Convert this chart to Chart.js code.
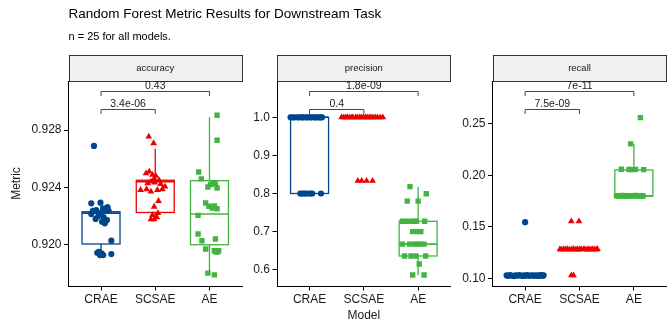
<!DOCTYPE html>
<html>
<head>
<meta charset="utf-8">
<title>Random Forest Metric Results</title>
<script src="https://cdn.jsdelivr.net/npm/chart.js@4.4.1/dist/chart.umd.min.js"></script>
<style>
    html, body { margin: 0; padding: 0; background: #ffffff; }
    #wrap { position: relative; width: 667px; height: 322px; }
    #wrap canvas { position: absolute; left: 0; top: 0; }
</style>
</head>
<body>
<div id="wrap">
    <canvas id="accuracyChart" width="667" height="322"></canvas>
    <canvas id="precisionChart" width="667" height="322"></canvas>
    <canvas id="recallChart" width="667" height="322"></canvas>
</div>
<script>
// categories
const models = ['CRAE', 'SCSAE', 'AE'];
const metrics = ['accuracy', 'precision', 'recall'];

// p-value labels: [CRAE vs SCSAE, CRAE vs AE]
const accuracyP = ['3.4e-06', '0.43'];
const precisionP = ['0.4', '1.8e-09'];
const recallP = ['7.5e-09', '7e-11'];

// y tick labels
const accuracyTicks = [0.920, 0.924, 0.928];
const precisionTicks = [0.6, 0.7, 0.8, 0.9, 1.0];
const recallTicks = [0.10, 0.15, 0.20, 0.25];

// box stats per model: [lower whisker, q1, median, q3, upper whisker]
const accuracyBox = [
    [0.9193, 0.92005, 0.9222, 0.9223, 0.9229],
    [0.9218, 0.92225, 0.9244, 0.9245, 0.9267],
    [0.9179, 0.9200, 0.92214, 0.92447, 0.9289]
];
const precisionBox = [
    [0.8, 0.8, 1.0, 1.0, 1.0],
    [1.0, 1.0, 1.0, 1.0, 1.0],
    [0.586, 0.636, 0.667, 0.727, 0.818]
];
const recallBox = [
    [0.1026, 0.1026, 0.1026, 0.1026, 0.1026],
    [0.128, 0.128, 0.128, 0.128, 0.128],
    [0.18, 0.18, 0.18, 0.2051, 0.2304]
];

const accuracyCRAE = [0.92689, 0.92289, 0.92293, 0.92262, 0.92237, 0.92242, 0.92223, 0.92254, 0.92242, 0.92237,
    0.92214, 0.92207, 0.92191, 0.92172, 0.92149, 0.92161, 0.92200, 0.92180, 0.92028, 0.91951,
    0.91940, 0.91928, 0.91928, 0.91935, 0.91944];
const accuracyCRAEJitter = [-0.13, -0.18, -0.01, 0.12, -0.15, -0.09, -0.04, 0.04, 0.10, 0.14,
    -0.18, 0.01, 0.05, 0.11, 0.07, 0.02, -0.05, -0.10, 0.19, -0.04,
    0.01, 0.04, -0.02, 0.19, -0.07];
const accuracySCSAE = [0.92754, 0.92708, 0.92498, 0.92510, 0.92487, 0.92480, 0.92450, 0.92460, 0.92429, 0.92440,
    0.92433, 0.92424, 0.92405, 0.92387, 0.92370, 0.92382, 0.92387, 0.92382, 0.92305, 0.92265,
    0.92220, 0.92207, 0.92191, 0.92177, 0.92177];
const accuracySCSAEJitter = [-0.12, -0.03, -0.17, -0.11, -0.05, 0.01, 0.07, -0.02, -0.14, -0.08,
    -0.01, 0.10, 0.18, -0.16, -0.08, 0.04, 0.13, -0.27, 0.06, -0.02,
    0.05, -0.05, 0.03, -0.02, -0.08];
const accuracyAE = [0.92903, 0.92729, 0.92507, 0.92459, 0.92403, 0.92431, 0.92396, 0.92424, 0.92420, 0.92291,
    0.92268, 0.92256, 0.92251, 0.92270, 0.92205, 0.92075, 0.92028, 0.92040, 0.91970, 0.91958,
    0.91949, 0.91958, 0.91950, 0.91802, 0.91790];
const accuracyAEJitter = [0.14, 0.14, -0.20, -0.15, -0.03, 0.07, 0.14, 0.11, 0.02, -0.07,
    -0.01, 0.05, 0.14, 0.09, -0.21, -0.21, -0.14, 0.11, -0.07, 0.09,
    0.14, 0.17, 0.12, -0.03, 0.09];

const precisionCRAE = [1, 1, 1, 1, 1, 1, 1, 1, 1, 1, 1, 1, 1, 1, 1, 1, 1,
    0.8, 0.8, 0.8, 0.8, 0.8, 0.8, 0.8, 0.8];
const precisionCRAEJitter = [-0.35, -0.31, -0.28, -0.22, -0.19, -0.14, -0.12, -0.07, -0.04, 0.01, 0.03, 0.08, 0.11, 0.14, 0.18, 0.20, 0.23,
    -0.17, -0.14, -0.10, -0.07, -0.02, 0.02, 0.05, 0.21];
const precisionSCSAE = [1, 1, 1, 1, 1, 1, 1, 1, 1, 1, 1, 1, 1, 1, 1, 1, 1, 1, 1, 1, 1,
    0.8333, 0.8333, 0.8333, 0.8333];
const precisionSCSAEJitter = [-0.41, -0.37, -0.33, -0.30, -0.26, -0.22, -0.20, -0.15, -0.12, -0.08, -0.05, -0.01, 0.03, 0.06, 0.10, 0.13, 0.17, 0.21, 0.25, 0.30, 0.35,
    -0.11, -0.04, 0.05, 0.16];
const precisionAE = [0.818, 0.7995, 0.78, 0.78, 0.727, 0.727, 0.727, 0.727, 0.727, 0.70,
    0.70, 0.70, 0.667, 0.667, 0.667, 0.667, 0.667, 0.667, 0.636, 0.636,
    0.636, 0.636, 0.615, 0.586, 0.586];
const precisionAEJitter = [-0.15, 0.15, -0.20, 0.0, -0.29, -0.20, -0.10, -0.03, 0.12, -0.10,
    -0.01, 0.05, -0.29, -0.16, -0.07, -0.02, 0.04, 0.11, -0.25, -0.13,
    -0.04, 0.14, 0.02, -0.10, 0.11];

const recallCRAE = [0.1545, 0.1028, 0.1024, 0.1030, 0.1026, 0.1022, 0.1029, 0.1025, 0.1031, 0.1027,
    0.1023, 0.1028, 0.1026, 0.1030, 0.1024, 0.1027, 0.1029, 0.1025, 0.1026, 0.1028,
    0.1023, 0.1031, 0.1027, 0.1025, 0.1029];
const recallCRAEJitter = [0.0, -0.34, -0.31, -0.28, -0.25, -0.21, -0.18, -0.15, -0.11, -0.08,
    -0.05, -0.02, 0.01, 0.04, 0.07, 0.10, 0.13, 0.16, 0.19, 0.22,
    0.25, 0.28, 0.31, 0.33, 0.34];
const recallSCSAE = [0.1553, 0.1553, 0.1282, 0.1279, 0.1284, 0.1280, 0.1283, 0.1278, 0.1281, 0.1285,
    0.1279, 0.1282, 0.1280, 0.1284, 0.1281, 0.1283, 0.1278, 0.1282, 0.1280, 0.1284,
    0.1281, 0.1279, 0.1283, 0.1029, 0.1029];
const recallSCSAEJitter = [-0.15, -0.01, -0.36, -0.33, -0.29, -0.25, -0.22, -0.18, -0.14, -0.11,
    -0.07, -0.04, 0.0, 0.03, 0.07, 0.10, 0.14, 0.17, 0.21, 0.24,
    0.28, 0.31, 0.33, -0.15, -0.11];
const recallAE = [0.2559, 0.2304, 0.2058, 0.2056, 0.2055, 0.2057, 0.2054, 0.1802, 0.1798, 0.1800,
    0.1803, 0.1797, 0.1801, 0.1799, 0.1802, 0.1798, 0.1800, 0.1803, 0.1797, 0.1801,
    0.1799, 0.1802, 0.1798, 0.1800, 0.1801];
const recallAEJitter = [0.12, -0.06, -0.23, -0.09, -0.02, 0.03, 0.18, -0.32, -0.29, -0.25,
    -0.21, -0.18, -0.14, -0.11, -0.07, -0.04, 0.0, 0.03, 0.06, 0.09,
    0.11, 0.13, 0.15, 0.17, -0.27];

const colors = ['#00468B', '#ED0000', '#42B540'];
const shapes = ['circle', 'triangle', 'rect'];
const radii = [3.1, 3.9, 3.8];
const fontFamily = '"Liberation Sans", Arial, Helvetica, sans-serif';
const textColor = '#1a1a1a';

function panelPlugin(p) {
    return {
        id: 'panel_' + p.name,
        beforeDatasetsDraw(chart) {
            const ctx = chart.ctx;
            const x = chart.scales.x;
            const y = chart.scales.y;
            ctx.save();
            p.box.forEach((b, i) => {
                const [lo, q1, med, q3, hi] = b;
                const cx = x.getPixelForValue(i + 1);
                const l = x.getPixelForValue(i + 1 - 0.35);
                const r = x.getPixelForValue(i + 1 + 0.35);
                const yLo = y.getPixelForValue(lo), yQ1 = y.getPixelForValue(q1);
                const yMed = y.getPixelForValue(med), yQ3 = y.getPixelForValue(q3);
                const yHi = y.getPixelForValue(hi);
                ctx.strokeStyle = colors[i];
                ctx.lineWidth = 1.3;
                // whiskers
                ctx.beginPath();
                ctx.moveTo(cx, yQ3); ctx.lineTo(cx, yHi);
                ctx.moveTo(cx, yQ1); ctx.lineTo(cx, yLo);
                ctx.stroke();
                // box
                ctx.fillStyle = '#ffffff';
                ctx.fillRect(l, yQ3, r - l, yQ1 - yQ3);
                ctx.strokeRect(l, yQ3, r - l, yQ1 - yQ3);
                // median
                ctx.lineWidth = 1.6;
                ctx.beginPath();
                ctx.moveTo(l, yMed); ctx.lineTo(r, yMed);
                ctx.stroke();
            });
            ctx.restore();
        },
        afterDraw(chart) {
            const ctx = chart.ctx;
            const area = chart.chartArea;
            const x = chart.scales.x;
            ctx.save();

            // facet strip
            const stripTop = 55;
            ctx.fillStyle = '#f0f0f0';
            ctx.fillRect(area.left, stripTop, area.right - area.left, area.top - stripTop);
            ctx.strokeStyle = '#333333';
            ctx.lineWidth = 1;
            ctx.strokeRect(Math.round(area.left) + 0.5, stripTop + 0.5,
                Math.round(area.right - area.left) - 1, Math.round(area.top - stripTop));
            ctx.fillStyle = textColor;
            ctx.font = '9.5px ' + fontFamily;
            ctx.textAlign = 'center';
            ctx.textBaseline = 'middle';
            ctx.fillText(p.name, (area.left + area.right) / 2, (stripTop + area.top) / 2 + 0.5);

            // comparison brackets
            const brackets = [
                { a: 1, b: 2, dy: 28.3, label: p.pvals[0] },
                { a: 1, b: 3, dy: 9.7, label: p.pvals[1] }
            ];
            ctx.strokeStyle = '#333333';
            ctx.lineWidth = 0.9;
            ctx.font = '10.5px ' + fontFamily;
            ctx.textBaseline = 'alphabetic';
            brackets.forEach(br => {
                const xa = x.getPixelForValue(br.a);
                const xb = x.getPixelForValue(br.b);
                const yy = Math.round(area.top + br.dy) + 0.5;
                ctx.beginPath();
                ctx.moveTo(xa, yy + 4.5);
                ctx.lineTo(xa, yy);
                ctx.lineTo(xb, yy);
                ctx.lineTo(xb, yy + 4.5);
                ctx.stroke();
                ctx.fillText(br.label, (xa + xb) / 2, yy - 2.5);
            });

            // page title and subtitle
            if (p.first) {
                ctx.textAlign = 'left';
                ctx.fillStyle = '#000000';
                ctx.font = '13.5px ' + fontFamily;
                ctx.fillText('Random Forest Metric Results for Downstream Task', area.left, 17.5);
                ctx.font = '11px ' + fontFamily;
                ctx.fillText('n = 25 for all models.', area.left, 40);
            }
            ctx.restore();
        }
    };
}

function buildChart(id, p) {
    const datasets = models.map((m, i) => ({
        label: m,
        data: p.values[i].map((v, k) => ({ x: i + 1 + p.jitter[i][k], y: v })),
        pointStyle: shapes[i],
        pointRadius: radii[i],
        backgroundColor: colors[i],
        borderWidth: 0
    }));

    return new Chart(document.getElementById(id), {
        type: 'scatter',
        data: { datasets },
        options: {
            responsive: false,
            animation: false,
            events: [],
            layout: {
                autoPadding: false,
                padding: { left: p.padLeft, right: p.padRight, top: 81, bottom: 0 }
            },
            plugins: {
                legend: { display: false },
                tooltip: { enabled: false }
            },
            scales: {
                x: {
                    type: 'linear',
                    min: 0.4,
                    max: 3.6,
                    afterBuildTicks: s => { s.ticks = [1, 2, 3].map(v => ({ value: v })); },
                    afterFit: s => {
                        s.height = 36;
                        s.paddingLeft = 0;
                        s.paddingRight = 0;
                    },
                    ticks: {
                        callback: v => models[v - 1],
                        color: textColor,
                        font: { family: fontFamily, size: 12 },
                        padding: 2,
                        autoSkip: false,
                        maxRotation: 0
                    },
                    grid: { drawOnChartArea: false, drawTicks: true, tickLength: 4.5, tickColor: '#000000', tickWidth: 1 },
                    border: { display: true, color: '#000000', width: 1 },
                    title: {
                        display: !!p.xTitle,
                        text: p.xTitle || '',
                        color: textColor,
                        font: { family: fontFamily, size: 12 },
                        padding: { top: 0, bottom: -1 }
                    }
                },
                y: {
                    type: 'linear',
                    min: p.yMin,
                    max: p.yMax,
                    afterBuildTicks: s => { s.ticks = p.ticks.map(v => ({ value: v })); },
                    afterFit: s => {
                        s.width = p.yWidth;
                        s.paddingTop = 0;
                        s.paddingBottom = 0;
                    },
                    ticks: {
                        callback: v => v.toFixed(p.decimals),
                        color: textColor,
                        font: { family: fontFamily, size: 12 },
                        padding: 2.5
                    },
                    grid: { drawOnChartArea: false, drawTicks: true, tickLength: 4.5, tickColor: '#000000', tickWidth: 1 },
                    border: { display: true, color: '#000000', width: 1 },
                    title: {
                        display: !!p.yTitle,
                        text: p.yTitle || '',
                        color: textColor,
                        font: { family: fontFamily, size: 12 },
                        padding: { top: 9, bottom: 0 }
                    }
                }
            }
        },
        plugins: [panelPlugin(p)]
    });
}

buildChart('accuracyChart', {
    name: metrics[0], first: true,
    values: [accuracyCRAE, accuracySCSAE, accuracyAE],
    jitter: [accuracyCRAEJitter, accuracySCSAEJitter, accuracyAEJitter],
    box: accuracyBox, pvals: accuracyP, ticks: accuracyTicks, decimals: 3,
    yMin: 0.91712, yMax: 0.93142,
    padLeft: 0, yWidth: 68.5, padRight: 667 - 242,
    yTitle: 'Metric'
});

buildChart('precisionChart', {
    name: metrics[1],
    values: [precisionCRAE, precisionSCSAE, precisionAE],
    jitter: [precisionCRAEJitter, precisionSCSAEJitter, precisionAEJitter],
    box: precisionBox, pvals: precisionP, ticks: precisionTicks, decimals: 1,
    yMin: 0.5572, yMax: 1.0953,
    padLeft: 237, yWidth: 40, padRight: 667 - 450.7,
    xTitle: 'Model'
});

buildChart('recallChart', {
    name: metrics[2],
    values: [recallCRAE, recallSCSAE, recallAE],
    jitter: [recallCRAEJitter, recallSCSAEJitter, recallAEJitter],
    box: recallBox, pvals: recallP, ticks: recallTicks, decimals: 2,
    yMin: 0.09253, yMax: 0.29143,
    padLeft: 452.5, yWidth: 40, padRight: 0.5
});
</script>
</body>
</html>
